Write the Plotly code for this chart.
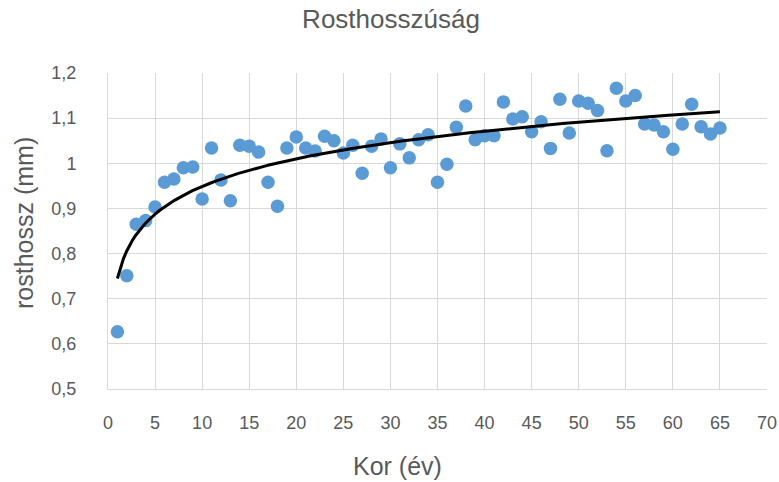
import numpy as np
import plotly.graph_objects as go

kor = list(range(1, 66))
rosthossz = [0.627, 0.751, 0.865, 0.873, 0.903, 0.958, 0.965, 0.990, 0.992, 0.921,
             1.034, 0.963, 0.917, 1.040, 1.038, 1.025, 0.958, 0.905, 1.034, 1.058,
             1.034, 1.027, 1.060, 1.050, 1.023, 1.040, 0.978, 1.038, 1.054, 0.990,
             1.043, 1.012, 1.052, 1.063, 0.958, 0.998, 1.080, 1.127, 1.052, 1.061,
             1.061, 1.136, 1.098, 1.103, 1.070, 1.092, 1.033, 1.142, 1.067, 1.138,
             1.133, 1.117, 1.028, 1.166, 1.138, 1.150, 1.087, 1.085, 1.070, 1.031,
             1.087, 1.131, 1.081, 1.065, 1.078]

title_text = "Rosthosszúság"
x_title = "Kor (év)"
y_title = "rosthossz (mm)"
y_ticks = [0.5, 0.6, 0.7, 0.8, 0.9, 1.0, 1.1, 1.2]
y_tick_labels = ["0,5", "0,6", "0,7", "0,8", "0,9", "1", "1,1", "1,2"]

# logarithmic trendline fitted to the data
a, b = np.polyfit(np.log(kor), rosthossz, 1)
tx = np.linspace(1, 65, 200)
ty = a * np.log(tx) + b

font_family = "Liberation Sans, Arial, sans-serif"
grey = "#595959"

W, H = 779, 482
L, R, T, B = 108, 12, 73, 93

fig = go.Figure()
fig.add_trace(go.Scatter(x=kor, y=rosthossz, mode="markers",
                         marker=dict(color="#5B9BD5", size=13.5, line=dict(width=0)),
                         showlegend=False, cliponaxis=False))
fig.add_trace(go.Scatter(x=tx, y=ty, mode="lines",
                         line=dict(color="black", width=3), showlegend=False))

pw = W - L - R
ph = H - T - B

fig.update_layout(
    width=W, height=H,
    margin=dict(l=L, r=R, t=T, b=B, autoexpand=False),
    paper_bgcolor="white", plot_bgcolor="white",
    font=dict(family=font_family, color=grey),
    title=dict(text=title_text, x=391 / W, xref="container", xanchor="center",
               y=1 - 19 / H, yref="container", yanchor="middle",
               font=dict(size=26, color=grey, family=font_family), automargin=False),
    xaxis=dict(range=[0, 70], dtick=5, tick0=0, showgrid=True, gridcolor="#D9D9D9",
               gridwidth=1, zeroline=False, showline=True, linecolor="#D9D9D9",
               linewidth=1, ticks="", tickfont=dict(size=18, color=grey),
               ticklabelstandoff=17, ticklabeloverflow="allow", automargin=False),
    yaxis=dict(range=[0.5, 1.2], tickvals=y_ticks, ticktext=y_tick_labels,
               showgrid=True, gridcolor="#D9D9D9", gridwidth=1, zeroline=False,
               showline=True, linecolor="#D9D9D9", linewidth=1, ticks="",
               tickfont=dict(size=18, color=grey), ticklabelstandoff=27,
               automargin=False),
    annotations=[
        dict(text=x_title, xref="paper", yref="paper",
             x=(397 - L) / pw, y=-(466 - T - ph) / ph, xanchor="center", yanchor="middle",
             showarrow=False, font=dict(size=25, color=grey, family=font_family)),
        dict(text=y_title, xref="paper", yref="paper", textangle=-90,
             x=-(L - 24) / pw, y=(T + ph - 223) / ph, xanchor="center", yanchor="middle",
             showarrow=False, font=dict(size=25, color=grey, family=font_family)),
    ],
)

fig.write_html(
    "out.html",
    config={"displayModeBar": False},
    post_script=("document.body.style.margin='0';"
                 "document.body.style.overflow='hidden';"
                 "document.documentElement.style.overflow='hidden';"),
)
